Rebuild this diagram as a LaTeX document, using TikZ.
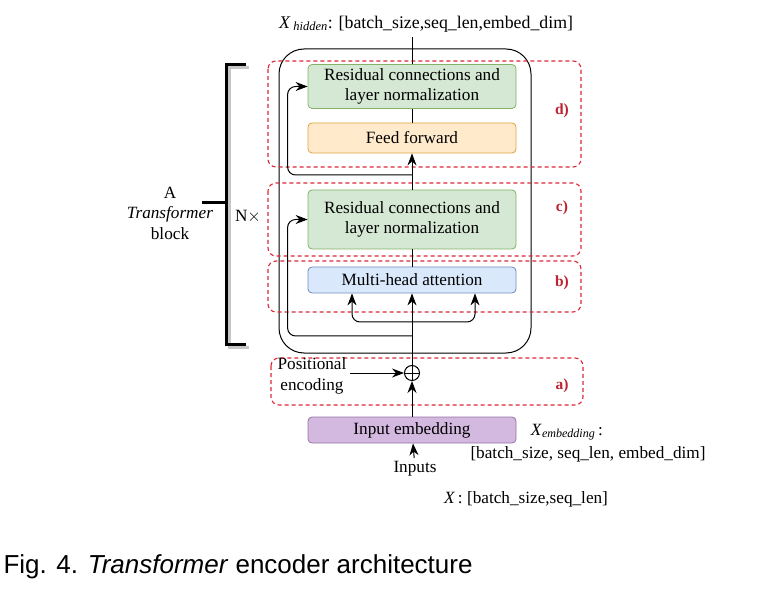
\documentclass[tikz,border=0pt]{standalone}
\usepackage{fontspec}
\setmainfont{Liberation Serif}
\newfontfamily\capfont{Liberation Sans}
\usetikzlibrary{arrows.meta,positioning}

\definecolor{grfill}{HTML}{D5E8D4}
\definecolor{grline}{HTML}{82B366}
\definecolor{orfill}{HTML}{FFEBCC}
\definecolor{orline}{HTML}{E0A040}
\definecolor{blfill}{HTML}{DAE8FC}
\definecolor{blline}{HTML}{6C8EBF}
\definecolor{pufill}{HTML}{D3B8DF}
\definecolor{puline}{HTML}{9673A6}
\definecolor{grpred}{HTML}{DD2838}

\begin{document}
\begin{tikzpicture}[x=1pt, y=-1pt,
		font=\fontsize{17.2}{20.5}\selectfont,
		layer_style/.style={draw, rounded corners=4pt, minimum width=208pt, align=center, inner sep=0pt, line width=0.8pt},
		res_style/.style={layer_style, fill=grfill, draw=grline},
		ff_style/.style={layer_style, fill=orfill, draw=orline},
		att_style/.style={layer_style, fill=blfill, draw=blline},
		emb_style/.style={layer_style, fill=pufill, draw=puline},
		group_style/.style={draw=grpred, dashed, dash pattern=on 4pt off 3pt, line width=1.1pt, rounded corners=8pt},
		tag_style/.style={text=grpred!85!black, font=\fontsize{15.5}{18}\selectfont\bfseries},
		edge_style/.style={draw=black, line width=1pt},
		arrow_style/.style={edge_style, -{Stealth[length=12pt,width=9pt]}},
		bracket_style/.style={line width=3pt}]

		\useasboundingbox (0,0) rectangle (761,596);

		% encoder block frame
		\draw[edge_style, rounded corners=25pt] (279,49) rectangle (531,353);

		% dashed sub-layer groups
		\draw[group_style] (268,61) rectangle (581,167);
		\draw[group_style] (268,183) rectangle (581,256);
		\draw[group_style] (268,261) rectangle (581,312);
		\draw[group_style] (271,358) rectangle (583,405);
		\node[tag_style] (tagd) at (562,111) {d)};
		\node[tag_style] (tagc) at (562,208) {c)};
		\node[tag_style] (tagb) at (562,283) {b)};
		\node[tag_style] (taga) at (562,386) {a)};

		% layers
		\node[res_style, minimum height=44pt] (res2) at (412,86.5) {Residual connections and\\layer normalization};
		\node[ff_style, minimum height=30pt] (ff) at (412,138) {Feed forward};
		\node[res_style, minimum height=59pt] (res1) at (412,219.5) {Residual connections and\\layer normalization};
		\node[att_style, minimum height=26pt] (mha) at (412,280) {Multi-head attention};
		\node[emb_style, minimum height=26pt] (emb) at (412,430) {Input embedding};
		\node[circle, draw, line width=1pt, minimum size=15pt, inner sep=0pt,
			path picture={\draw[line width=1pt] (path picture bounding box.north) -- (path picture bounding box.south)
				(path picture bounding box.west) -- (path picture bounding box.east);}] (plus) at (412,373) {};

		% texts
		\node[font=\fontsize{17.8}{20.5}\selectfont] (hidden) at (426,24) {\textit{X}\,\textsubscript{\textit{hidden}}: [batch\_size,seq\_len,embed\_dim]};
		\node[align=center] (pos) at (312,376) {Positional\\encoding};
		\node (inputs) at (415,469) {Inputs};
		\node (xemb) at (567,432) {\textit{X}\textsubscript{\textit{embedding}}\,:};
		\node (embdim) at (588,454) {[batch\_size, seq\_len, embed\_dim]};
		\node (xin) at (526,499) {\textit{X}\,: [batch\_size,seq\_len]};
		\node[align=center] (block) at (170,213) {A\\\textit{Transformer}\\block};
		\node (times) at (248,217) {N$\times$};
		\node[font=\capfont\fontsize{26}{30}\selectfont, anchor=west] (caption) at (0,567) {Fig. 4. \textit{Transformer} encoder architecture};

		% N x bracket
		\draw[bracket_style, gray!45, shift={(3,3)}] (246,65) -- (226,65) -- (226,344) -- (246,344);
		\draw[bracket_style] (246,65) -- (226,65) -- (226,344) -- (246,344);
		\draw[bracket_style] (202,203) -- (226,203);

		% main path
		\coordinate (top) at (412,37);
		\coordinate (skipd) at (412,175);
		\coordinate (fork) at (412,322);
		\coordinate (skipc) at (412,336);
		\draw[edge_style] (res2) -- (top);
		\draw[edge_style] (ff) -- (res2);
		\draw[arrow_style] (res1) -- (ff);
		\draw[edge_style] (mha) -- (res1);
		\draw[arrow_style] (plus) -- (mha);
		\draw[arrow_style] (emb) -- (plus);
		\draw[arrow_style] (inputs) -- (emb);
		\draw[arrow_style] (pos.east |- plus) -- (plus);

		% residual and attention branches
		\draw[arrow_style, rounded corners=8pt] (skipd) -| ([xshift=-20pt]res2.west) -- (res2.west);
		\draw[arrow_style, rounded corners=8pt] (skipc) -| ([xshift=-20pt]res1.west) -- (res1.west);
		\draw[arrow_style, rounded corners=8pt] (fork) -| ([xshift=-60pt]mha.south);
		\draw[arrow_style, rounded corners=8pt] (fork) -| ([xshift=63pt]mha.south);
\end{tikzpicture}
\end{document}
